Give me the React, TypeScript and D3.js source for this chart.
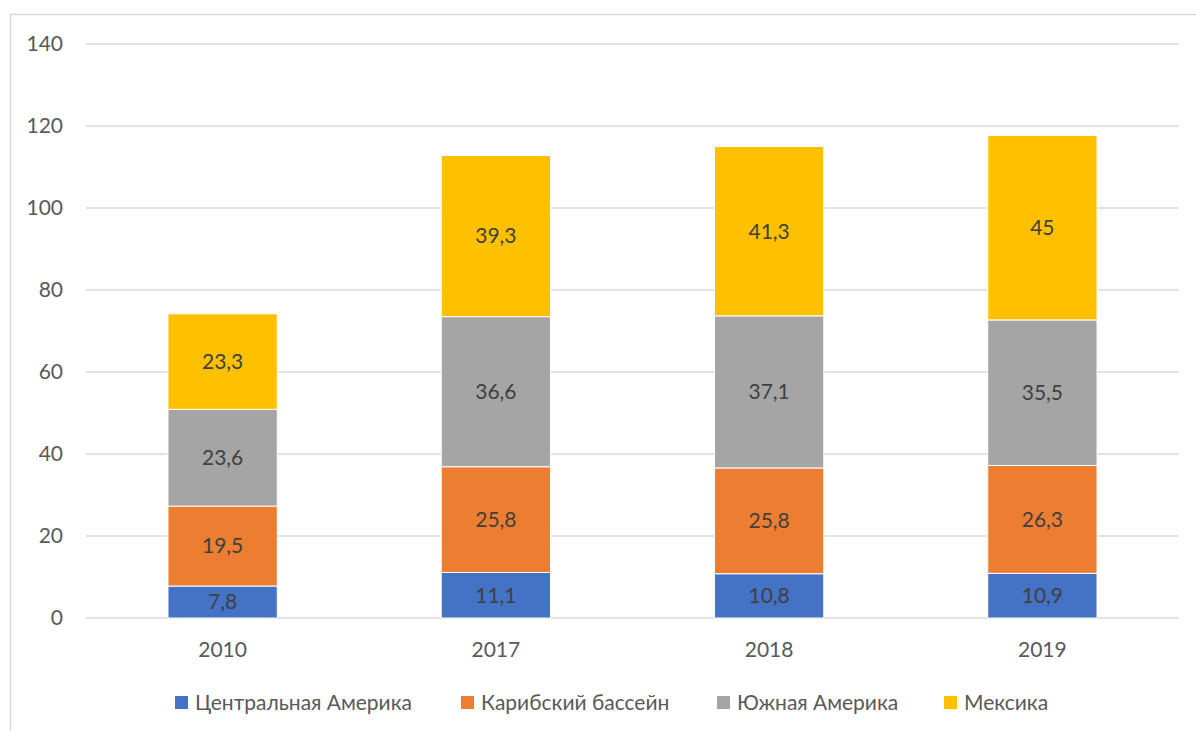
import * as d3 from "d3";
import { useEffect, useRef } from "react";

const years = ["2010", "2017", "2018", "2019"];
const seriesNames = ["Центральная Америка", "Карибский бассейн", "Южная Америка", "Мексика"];
const centralAmerica = [7.8, 11.1, 10.8, 10.9];
const caribbean = [19.5, 25.8, 25.8, 26.3];
const southAmerica = [23.6, 36.6, 37.1, 35.5];
const mexico = [23.3, 39.3, 41.3, 45];
const colors = ["#4472C4", "#ED7D31", "#A5A5A5", "#FFC000"];
const yTicks = [0, 20, 40, 60, 80, 100, 120, 140];

const width = 1196;
const height = 731;
const plot = { left: 86, right: 1179, top: 44, bottom: 618 };
const font = "Lato, 'Open Sans', sans-serif";
const fontSize = "21px";

export default function App() {
  const svgRef = useRef<SVGSVGElement | null>(null);

  useEffect(() => {
    if (!svgRef.current) return;
    const svg = d3.select(svgRef.current);
    svg.selectAll("*").remove();

    const values = [centralAmerica, caribbean, southAmerica, mexico];
    const rows = years.map((year, i) => {
      const row: Record<string, number | string> = { year };
      seriesNames.forEach((name, s) => (row[name] = values[s][i]));
      return row;
    });
    const stacked = d3.stack<any>().keys(seriesNames)(rows);

    const xScale = d3
      .scaleBand()
      .domain(years)
      .range([plot.left, plot.right])
      .paddingInner(0.6)
      .paddingOuter(0.3);
    const yScale = d3.scaleLinear().domain([0, 140]).range([plot.bottom, plot.top]);

    // chart frame
    svg
      .append("rect")
      .attr("x", 10.5)
      .attr("y", 14.5)
      .attr("width", width + 20)
      .attr("height", height + 20)
      .attr("fill", "none")
      .attr("stroke", "#D9D9D9")
      .attr("stroke-width", 1.5);

    svg
      .append("g")
      .selectAll("line")
      .data(yTicks)
      .join("line")
      .attr("x1", plot.left)
      .attr("x2", plot.right)
      .attr("y1", (d) => yScale(d))
      .attr("y2", (d) => yScale(d))
      .attr("stroke", "#D9D9D9")
      .attr("stroke-width", 1.5);

    svg
      .append("g")
      .selectAll("text")
      .data(yTicks)
      .join("text")
      .attr("x", 63)
      .attr("y", (d) => yScale(d))
      .attr("dy", "0.35em")
      .attr("text-anchor", "end")
      .attr("fill", "#595959")
      .style("font-family", font)
      .style("font-size", fontSize)
      .text((d) => d);

    svg
      .append("g")
      .selectAll("text")
      .data(years)
      .join("text")
      .attr("x", (d) => xScale(d)! + xScale.bandwidth() / 2)
      .attr("y", 657)
      .attr("text-anchor", "middle")
      .attr("fill", "#595959")
      .style("font-family", font)
      .style("font-size", fontSize)
      .text((d) => d);

    const layers = svg
      .append("g")
      .selectAll("g")
      .data(stacked)
      .join("g")
      .attr("fill", (_, i) => colors[i]);

    layers
      .selectAll("rect")
      .data((d) => d)
      .join("rect")
      .attr("x", (d) => xScale(d.data.year as string)!)
      .attr("y", (d) => yScale(d[1]))
      .attr("width", xScale.bandwidth())
      .attr("height", (d) => yScale(d[0]) - yScale(d[1]))
      .attr("stroke", "#ffffff")
      .attr("stroke-width", 1);

    layers
      .selectAll("text")
      .data((d) => d.map((p) => ({ p, key: d.key })))
      .join("text")
      .attr("x", (d) => xScale(d.p.data.year as string)! + xScale.bandwidth() / 2)
      .attr("y", (d) => (yScale(d.p[0]) + yScale(d.p[1])) / 2)
      .attr("dy", "0.35em")
      .attr("text-anchor", "middle")
      .attr("fill", "#404040")
      .style("font-family", font)
      .style("font-size", fontSize)
      .text((d) => String(d.p.data[d.key]).replace(".", ","));

    const legendX = [175, 461, 717, 944];
    const legend = svg
      .append("g")
      .selectAll("g")
      .data(seriesNames)
      .join("g")
      .attr("transform", (_, i) => `translate(${legendX[i]}, 696)`);
    legend
      .append("rect")
      .attr("width", 13)
      .attr("height", 13)
      .attr("fill", (_, i) => colors[i]);
    legend
      .append("text")
      .attr("x", 20)
      .attr("y", 6.5)
      .attr("dy", "0.35em")
      .attr("fill", "#595959")
      .style("font-family", font)
      .style("font-size", fontSize)
      .text((d) => d);
  }, []);

  return (
    <svg
      ref={svgRef}
      width={width}
      height={height}
      style={{ position: "absolute", left: 0, top: 0, background: "#ffffff" }}
    />
  );
}
